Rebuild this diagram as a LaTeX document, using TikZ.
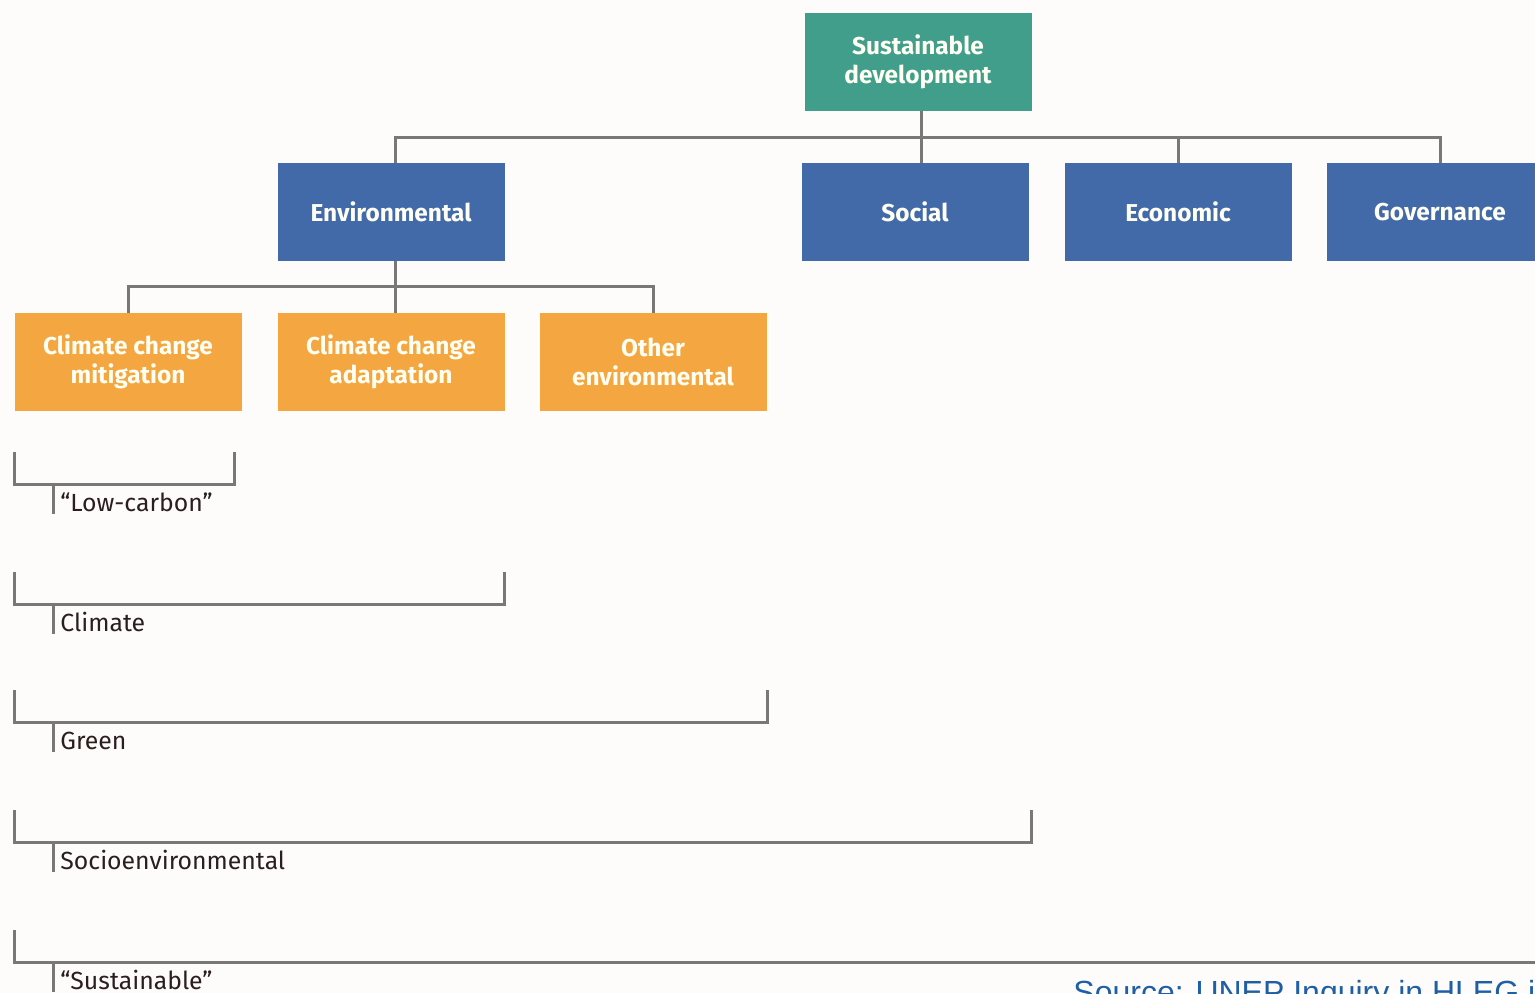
\documentclass[tikz,border=0pt]{standalone}
\usepackage{fontspec}
\setmainfont{Fira Sans}
\newfontfamily\srcfont{Liberation Sans}
\definecolor{bgcol}{RGB}{253,252,250}
\definecolor{tealcol}{RGB}{64,158,138}
\definecolor{bluecol}{RGB}{66,106,168}
\definecolor{orangecol}{RGB}{244,166,64}
\definecolor{linecol}{RGB}{122,120,118}
\definecolor{txtcol}{RGB}{43,30,30}
\definecolor{srccol}{RGB}{30,95,165}
\tikzset{
    box/.style={minimum width=113.5pt, minimum height=49pt, inner sep=0pt,
        align=center, text=white!95!yellow, font=\bfseries\fontsize{12.2}{14.5}\selectfont},
    link/.style={draw=linecol, line width=1.5pt},
    tag/.style={anchor=base west, inner sep=0pt, text=txtcol, font=\fontsize{12.4}{15}\selectfont}
}
\begin{document}
\begin{tikzpicture}[x=0.5pt, y=-0.5pt]
        % Canvas (pixel grid of the reference)
        \clip (0,0) rectangle (1535,993);
        \fill[bgcol] (0,0) rectangle (1535,993);

        % Boxes
        \node[box, fill=tealcol] (sd) at (918,62) {Sustainable\\development};
        \node[box, fill=bluecol] (env) at (391,212) {Environmental};
        \node[box, fill=bluecol] (soc) at (915,212) {Social};
        \node[box, fill=bluecol] (eco) at (1178,212) {Economic};
        \node[box, fill=bluecol] (gov) at (1440,212) {Governance};
        \node[box, fill=orangecol] (mit) at (128,362) {Climate change\\mitigation};
        \node[box, fill=orangecol] (ada) at (391,362) {Climate change\\adaptation};
        \node[box, fill=orangecol] (oth) at (653,362) {Other\\environmental};

        % Tree connectors
        \coordinate (hub) at (921,137);
        \coordinate (sub) at (395,286);
        \draw[link] (hub |- sd.south) -- (hub |- soc.north);
        \draw[link] (env.north -| sub) -- (sub |- hub) -- (gov.north |- hub) -- (gov.north);
        \draw[link] (eco.north) -- (eco.north |- hub);
        \draw[link] (env.south -| sub) -- (sub);
        \draw[link] (mit.north) -- (mit.north |- sub) -- (oth.north |- sub) -- (oth.north);
        \draw[link] (sub) -- (sub |- ada.north);

        % Scope brackets: name / top y / right x / label
        \foreach \n/\t/\r/\lbl in {lowc/452/234/{``Low-carbon''}, clim/572/504/Climate,
                green/690/767/Green, socio/810/1031/Socioenvironmental,
                sust/930/1600/{``Sustainable''}} {
            \pgfmathsetmacro{\b}{\t+32}
            \draw[link] (14,\t) -- (14,\b) -- (\r,\b) -- (\r,\t);
            % tick down to the label
            \node[tag] (\n) at (60,\b+27) {\lbl};
            \draw[link] (53,\b) -- (53,\b+30);
        }

        % Source line, cut by the lower edge
        \node[anchor=north west, inner sep=0pt, text=srccol, font=\srcfont\fontsize{16}{18}\selectfont]
            (src) at (1073,980) {Source: UNEP Inquiry in HLEG in};
\end{tikzpicture}
\end{document}
